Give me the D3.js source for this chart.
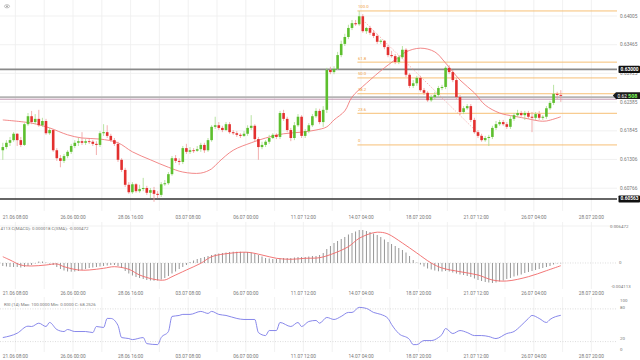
<!DOCTYPE html>
<html><head><meta charset="utf-8">
<script src="https://cdn.jsdelivr.net/npm/d3@7/dist/d3.min.js"></script>
<style>
html,body{margin:0;padding:0;background:#fff;}
svg{display:block;}
text{font-family:Roboto,"Liberation Sans",sans-serif;}
</style></head><body>
<svg id="chart" width="640" height="360"></svg>
<script>
// ---------------- DATA ----------------
const dateLabels = ["21.06 08:00","26.06 00:00","28.06 16:00","03.07 08:00","06.07 00:00","11.07 12:00","14.07 04:00","18.07 20:00","21.07 12:00","26.07 04:00","28.07 20:00"];
const dateTickIdx = [3.5,19.5,35.5,51.5,67.5,83.5,99.5,115.5,131.5,147.5,163.5];
const priceTicks = [0.64005,0.63465,0.62925,0.62385,0.61845,0.61306,0.60766];

const openP = [
.6148,.6154,.6162,.6167,.6179,.6167,.6158,.6197,.6212,.6201,
.6207,.6195,.6203,.6180,.6186,.6148,.6133,.6128,.6137,.6145,
.6156,.6162,.6165,.6162,.6165,.6164,.6160,.6158,.6180,.6182,
.6175,.6167,.6160,.6130,.6111,.6083,.6069,.6084,.6071,.6075,
.6077,.6068,.6073,.6066,.6064,.6084,.6086,.6103,.6133,.6128,
.6126,.6152,.6145,.6148,.6147,.6150,.6158,.6148,.6167,.6192,
.6195,.6190,.6186,.6197,.6182,.6180,.6177,.6175,.6179,.6190,
.6194,.6169,.6154,.6158,.6164,.6171,.6177,.6173,.6218,.6207,
.6186,.6171,.6195,.6211,.6175,.6184,.6195,.6212,.6222,.6201,
.6224,.6299,.6295,.6301,.6327,.6348,.6361,.6378,.6387,.6385,
.6400,.6372,.6378,.6369,.6363,.6352,.6354,.6342,.6327,.6325,
.6314,.6323,.6337,.6290,.6269,.6274,.6284,.6261,.6256,.6242,
.6248,.6252,.6265,.6267,.6303,.6295,.6280,.6248,.6220,.6227,
.6231,.6205,.6182,.6175,.6167,.6171,.6173,.6190,.6197,.6201,
.6197,.6192,.6207,.6214,.6218,.6214,.6218,.6211,.6209,.6216,
.6209,.6211,.6227,.6237,.6254,.6252];
const highP = [
.6162,.6167,.6173,.6182,.6180,.6173,.6199,.6218,.6222,.6216,
.6224,.6209,.6207,.6190,.6188,.6152,.6139,.6141,.6148,.6160,
.6167,.6171,.6182,.6169,.6169,.6167,.6165,.6184,.6197,.6195,
.6179,.6171,.6164,.6133,.6115,.6088,.6088,.6086,.6083,.6096,
.6081,.6077,.6079,.6071,.6088,.6092,.6107,.6137,.6139,.6133,
.6156,.6160,.6154,.6152,.6156,.6162,.6162,.6171,.6195,.6211,
.6201,.6194,.6201,.6201,.6186,.6184,.6180,.6184,.6195,.6214,
.6197,.6173,.6164,.6167,.6177,.6180,.6180,.6222,.6224,.6211,
.6190,.6201,.6216,.6214,.6188,.6199,.6216,.6227,.6226,.6231,
.6303,.6305,.6306,.6333,.6354,.6367,.6384,.6393,.6393,.6410,
.6404,.6380,.6382,.6374,.6367,.6357,.6355,.6346,.6335,.6329,
.6327,.6344,.6340,.6293,.6280,.6288,.6288,.6265,.6259,.6252,
.6258,.6269,.6271,.6306,.6308,.6299,.6284,.6252,.6231,.6235,
.6235,.6209,.6186,.6179,.6175,.6177,.6194,.6203,.6205,.6205,
.6201,.6212,.6218,.6224,.6222,.6222,.6222,.6220,.6220,.6222,
.6214,.6231,.6241,.6271,.6258,.6261];
const lowP = [
.6130,.6150,.6156,.6164,.6156,.6154,.6156,.6194,.6197,.6197,
.6192,.6192,.6177,.6177,.6145,.6128,.6116,.6124,.6133,.6141,
.6152,.6156,.6158,.6158,.6160,.6156,.6139,.6154,.6175,.6171,
.6164,.6156,.6126,.6107,.6079,.6066,.6066,.6068,.6068,.6071,
.6064,.6058,.6051,.6058,.6060,.6081,.6083,.6100,.6124,.6120,
.6122,.6141,.6141,.6143,.6145,.6145,.6143,.6145,.6164,.6188,
.6186,.6182,.6184,.6179,.6177,.6173,.6171,.6173,.6175,.6186,
.6165,.6130,.6150,.6154,.6160,.6169,.6169,.6169,.6203,.6182,
.6165,.6167,.6192,.6171,.6171,.6180,.6192,.6209,.6197,.6192,
.6218,.6291,.6291,.6299,.6323,.6344,.6357,.6374,.6382,.6382,
.6369,.6367,.6365,.6359,.6348,.6348,.6338,.6323,.6322,.6310,
.6310,.6320,.6286,.6265,.6265,.6269,.6258,.6252,.6239,.6239,
.6244,.6248,.6261,.6263,.6291,.6276,.6244,.6214,.6216,.6224,
.6201,.6179,.6171,.6164,.6164,.6156,.6169,.6186,.6194,.6194,
.6188,.6188,.6203,.6211,.6211,.6205,.6207,.6182,.6205,.6205,
.6205,.6207,.6224,.6233,.6244,.6239];
const closeP = [
.6154,.6162,.6167,.6179,.6167,.6158,.6197,.6212,.6201,.6207,
.6195,.6203,.6180,.6186,.6148,.6133,.6128,.6137,.6145,.6156,
.6162,.6165,.6162,.6165,.6164,.6160,.6158,.6180,.6182,.6175,
.6167,.6160,.6130,.6111,.6083,.6069,.6084,.6071,.6075,.6077,
.6068,.6073,.6066,.6064,.6084,.6086,.6103,.6133,.6128,.6126,
.6152,.6145,.6148,.6147,.6150,.6158,.6148,.6167,.6192,.6195,
.6190,.6186,.6197,.6182,.6180,.6177,.6175,.6179,.6190,.6194,
.6169,.6154,.6158,.6164,.6171,.6177,.6173,.6218,.6207,.6186,
.6171,.6195,.6211,.6175,.6184,.6195,.6212,.6222,.6201,.6224,
.6299,.6295,.6301,.6327,.6348,.6361,.6378,.6387,.6385,.6400,
.6372,.6378,.6369,.6363,.6352,.6354,.6342,.6327,.6325,.6314,
.6323,.6337,.6290,.6269,.6274,.6284,.6261,.6256,.6242,.6248,
.6252,.6265,.6267,.6303,.6295,.6280,.6248,.6220,.6227,.6231,
.6205,.6182,.6175,.6167,.6171,.6173,.6190,.6197,.6201,.6197,
.6192,.6207,.6214,.6218,.6214,.6218,.6211,.6209,.6216,.6209,
.6211,.6227,.6237,.6254,.6252,.62508];

// moving average (main panel)
const maIdx = [0,8,13,18,22,27,32,36,41,46,50,55,58,60,64,69,73,78,83,87,90,92,95,97,101,106,110,112,116,120,123,127,131,134,138,142,146,149,151,155];
const maVal = [.6205,.6199,.6190,.6177,.6171,.6169,.6162,.6145,.6130,.6116,.6107,.6105,.6113,.6126,.6148,.6162,.6171,.6179,.6182,.6186,.6192,.6205,.6222,.6248,.6274,.6303,.6323,.6333,.6340,.6333,.6312,.6280,.6256,.6233,.6218,.6212,.6207,.6203,.6203,.6211];

// horizontal levels
const levelVals = [0.63000, 0.60563];
const bidLine = 0.6248, askLine = 0.6244;
const lastPrice = 0.62508;

// fibonacci
const fibHigh = 0.6410, fibLow = 0.6158, fibStartIdx = 98.5;
const fibLevels = [100, 61.8, 50, 38.2, 23.6, 0];
const fibLabels = ["100.0","61.8","50.0","38.2","23.6","0"];

// trend line (dotted)
const trendIdx = [100, 134];
const trendVal = [0.6393, 0.6167];

// MACD
const macdHist = [
-0.000525,-0.000612,-0.0007,-0.0007,-0.0007,-0.000787,-0.0007,-0.000525,-0.00035,-0.000088,
0.000262,0.000262,0.000088,-0.000088,-0.00035,-0.0007,-0.00105,-0.001312,-0.001487,-0.001522,
-0.001487,-0.0014,-0.001225,-0.00105,-0.000875,-0.000787,-0.0007,-0.000612,-0.000525,-0.000437,
-0.00035,-0.00035,-0.000525,-0.000875,-0.0014,-0.001837,-0.002187,-0.00245,-0.002625,-0.0028,
-0.002975,-0.003062,-0.003097,-0.003062,-0.002887,-0.002625,-0.002275,-0.001837,-0.001487,-0.00105,
-0.0007,-0.00035,0.000175,0.000437,0.0007,0.000875,0.00105,0.001225,0.0014,0.001575,
0.001662,0.00175,0.001837,0.001925,0.001977,0.001977,0.001977,0.001925,0.001925,0.001837,
0.001662,0.0014,0.001137,0.000875,0.000787,0.0007,0.0007,0.000787,0.000875,0.000875,
0.000875,0.000962,0.00105,0.00105,0.00105,0.001137,0.001225,0.001225,0.0014,0.00175,
0.00245,0.002975,0.0035,0.00385,0.0042,0.00455,0.004987,0.00525,0.005512,0.005775,
0.005775,0.0056,0.005425,0.005162,0.0049,0.00455,0.004112,0.003675,0.003325,0.002975,
0.002625,0.002275,0.001837,0.001225,0.000525,0.000088,-0.000262,-0.000612,-0.000962,-0.001137,
-0.001312,-0.001452,-0.001487,-0.0014,-0.001487,-0.001662,-0.001837,-0.002012,-0.0021,-0.002275,
-0.00245,-0.002712,-0.002975,-0.00315,-0.003325,-0.003412,-0.0035,-0.003412,-0.003237,-0.003062,
-0.0028,-0.002625,-0.002362,-0.002187,-0.002012,-0.00175,-0.001575,-0.0014,-0.001225,-0.00105,
-0.000875,-0.0007,-0.000525,-0.000262,-0.000088,0.000018];
const sigIdx = [0,2,5,8,12,15,17,21,24,28,31,35,38,42,45,47,51,55,58,63,68,72,76,80,84,88,92,96,99,103,105,107,111,115,119,122,127,132,136,140,146,151,155];
const sigVal = [0.001102,0.000525,-0.00035,-0.000525,-0.00035,-0.000175,-0.000647,-0.001225,-0.001225,-0.000927,-0.000647,-0.001102,-0.0021,-0.002852,-0.002975,-0.002397,-0.001225,-0.000052,0.001102,0.001697,0.001872,0.0014,0.000822,0.000647,0.000822,0.000927,0.001697,0.002852,0.004322,0.005302,0.005372,0.005075,0.0035,0.00175,0,-0.000875,-0.001522,-0.0021,-0.002975,-0.00315,-0.002397,-0.001347,-0.000472];
const macdMax = 0.006472, macdMin = -0.004113;

// RSI
const rsiIdx = [0,4,7,8,10,12,13,15,17,18,20,23,25,26,28,29,30,32,33,35,36,39,40,43,44,46,47,49,50,52,55,57,58,60,62,65,67,70,71,73,74,76,77,80,82,83,85,87,88,90,92,94,96,97,99,101,103,105,107,108,110,113,114,115,117,119,121,122,123,125,127,129,131,133,135,137,140,142,144,146,147,149,151,152,155];
const rsiVal = [27.4,35.4,48.3,47.7,53.8,47.7,55.1,42.2,38.5,42.2,38.5,38.5,36.6,47.7,45.9,62.5,62.5,49.6,27.4,25.6,23.7,27.4,16.3,14.5,27.4,38.5,66.2,68.0,69.9,69.9,75.4,71.7,75.4,69.9,68.0,62.5,60.6,60.6,36.6,31.1,40.3,40.3,55.1,47.7,55.1,47.7,56.9,58.8,53.8,64.3,60.6,66.2,73.5,73.5,82.8,80.9,73.5,69.9,62.5,51.4,34.8,23.7,14.5,14.5,21.9,21.9,27.4,33.0,44.0,34.8,40.3,36.6,31.1,31.1,29.3,25.6,34.8,38.5,49.6,62.5,68.0,62.5,55.1,60.6,68.25];
const rsiTicks = [100, 80, 20, 0];

const macdHeader = "4113  C(MACD): 0.000018  C(SMA): -0.000472";
const rsiHeader = "RSI (14)  Max: 100.0000  Min: 0.0000  C: 68.2526";

// ---------------- LAYOUT ----------------
const plotLeft = 0, plotRight = 617, axisX = 620;
const FS = 4.8;
const svg = d3.select('#chart');
const x = d3.scaleLinear().domain([0,155]).range([2.8,560.8]);
const yP = d3.scaleLinear().domain([0.60544,0.64306]).range([200,0]);
const yM = d3.scaleLinear().domain([macdMin,macdMax]).range([286.5,226]);
const yR = d3.scaleLinear().domain([20,80]).range([341.6,308.9]);
const panels = [{top:0,bottom:211,axisY:217},{top:222,bottom:289,axisY:293},{top:297,bottom:352,axisY:356}];

svg.append('rect').attr('width',640).attr('height',360).attr('fill','#fff');

// vertical grid + time axis per panel
const gridIdx = d3.range(3.5, 200, 8).filter(i => x(i) <= plotRight);
panels.forEach(p => {
  svg.append('g').selectAll('line').data(gridIdx).join('line')
    .attr('x1', d => x(d)).attr('x2', d => x(d))
    .attr('y1', p.top).attr('y2', p.bottom)
    .attr('stroke', '#ededed').attr('stroke-width', 0.8);
  svg.append('g').selectAll('text').data(dateLabels).join('text')
    .attr('x', (d,i) => x(dateTickIdx[i])).attr('y', p.axisY)
    .attr('text-anchor','middle').attr('dominant-baseline','central')
    .attr('font-size', FS).attr('fill','#777').text(d => d);
});

// horizontal grid main
svg.append('g').selectAll('line').data(priceTicks).join('line')
  .attr('x1', plotLeft).attr('x2', plotRight)
  .attr('y1', d => yP(d)).attr('y2', d => yP(d))
  .attr('stroke', '#ededed').attr('stroke-width', 0.8);

// fib lines
const fibG = svg.append('g');
const fibPrice = l => fibLow + (fibHigh - fibLow) * l / 100;
fibG.selectAll('line').data(fibLevels).join('line')
  .attr('x1', x(fibStartIdx)).attr('x2', plotRight)
  .attr('y1', d => yP(fibPrice(d))).attr('y2', d => yP(fibPrice(d)))
  .attr('stroke', '#f6b967').attr('stroke-width', 0.9);
fibG.selectAll('text').data(fibLevels).join('text')
  .attr('x', x(fibStartIdx) + 0.5).attr('y', d => yP(fibPrice(d)) - 2.6)
  .attr('font-size', 4.3).attr('fill','#f0a040').text((d,i) => fibLabels[i]);

// levels
svg.append('line').attr('x1',plotLeft).attr('x2',plotRight).attr('y1',yP(levelVals[0])).attr('y2',yP(levelVals[0]))
  .attr('stroke','#8a8a8a').attr('stroke-width',1.8);
svg.append('line').attr('x1',plotLeft).attr('x2',plotRight).attr('y1',yP(levelVals[1])).attr('y2',yP(levelVals[1]))
  .attr('stroke','#333').attr('stroke-width',1.6);
svg.append('line').attr('x1',plotLeft).attr('x2',plotRight).attr('y1',yP(bidLine)).attr('y2',yP(bidLine))
  .attr('stroke','#b4b4b4').attr('stroke-width',1.8);
svg.append('line').attr('x1',plotLeft).attr('x2',plotRight).attr('y1',yP(askLine)).attr('y2',yP(askLine))
  .attr('stroke','#b07a9a').attr('stroke-width',0.8);

// MA line
const maPts = maIdx.map((d,i) => [d, maVal[i]]);
svg.append('path').datum(maPts)
  .attr('d', d3.line().x(d => x(d[0])).y(d => yP(d[1])).curve(d3.curveCatmullRom.alpha(0.5)))
  .attr('fill','none').attr('stroke','#f07c7c').attr('stroke-width',0.9);

// trend line
svg.append('path').datum(trendIdx.map((d,i)=>[d,trendVal[i]]))
  .attr('d', d3.line().x(d => x(d[0])).y(d => yP(d[1])))
  .attr('fill','none').attr('stroke','#f29a9a').attr('stroke-width',0.7).attr('stroke-dasharray','1.5,1.5');

// candles
const bars = closeP.map((c,i) => ({i, o:openP[i], h:highP[i], l:lowP[i], c}));
const up = '#5dbf2e', dn = '#e3302f';
const cg = svg.append('g');
cg.selectAll('line').data(bars).join('line')
  .attr('x1', d => x(d.i)).attr('x2', d => x(d.i))
  .attr('y1', d => yP(d.h)).attr('y2', d => yP(d.l))
  .attr('stroke', d => d.c >= d.o ? '#a6dc8a' : '#f09a9a').attr('stroke-width', 0.8);
cg.selectAll('rect').data(bars).join('rect')
  .attr('x', d => x(d.i) - 1.3).attr('width', 2.6)
  .attr('y', d => yP(Math.max(d.o, d.c)))
  .attr('height', d => Math.max(0.9, Math.abs(yP(d.o) - yP(d.c))))
  .attr('fill', d => d.c >= d.o ? up : dn);

// price axis labels
svg.append('g').selectAll('text').data(priceTicks).join('text')
  .attr('x', axisX).attr('y', d => yP(d)).attr('dominant-baseline','central')
  .attr('font-size', FS).attr('fill','#777').text(d => d.toFixed(5));

// level boxes
levelVals.forEach(v => {
  const yy = yP(v);
  svg.append('rect').attr('x',618.5).attr('y',yy-3.6).attr('width',21.5).attr('height',7.2).attr('fill','#111').attr('rx',0.8);
  svg.append('text').attr('x',620.5).attr('y',yy).attr('dominant-baseline','central')
    .attr('font-size',FS).attr('font-weight','bold').attr('fill','#fff').text(v.toFixed(5));
});
// last price box
{
  const yy = yP(lastPrice);
  svg.append('path').attr('d', `M612.8,${yy} L616,${yy-3.4} L640,${yy-3.4} L640,${yy+3.4} L616,${yy+3.4} Z`).attr('fill','#1c1c1c');
  const t = svg.append('text').attr('x',617.5).attr('y',yy).attr('dominant-baseline','central').attr('font-size',FS);
  t.append('tspan').attr('fill','#fff').text(lastPrice.toFixed(5).slice(0,4) + ' ');
  t.append('tspan').attr('fill','#7dff5a').attr('font-weight','bold').attr('font-size',5.4).text(lastPrice.toFixed(5).slice(4));
}

// eye icon
svg.append('ellipse').attr('cx',7).attr('cy',6.3).attr('rx',2.6).attr('ry',1.6).attr('fill','none').attr('stroke','#9a9a9a').attr('stroke-width',0.6);
svg.append('circle').attr('cx',7).attr('cy',6.3).attr('r',0.9).attr('fill','#9a9a9a');

// ---------- MACD panel ----------
svg.append('line').attr('x1',plotLeft).attr('x2',plotRight).attr('y1',yM(macdMax)).attr('y2',yM(macdMax)).attr('stroke','#ededed').attr('stroke-width',0.8);
svg.append('line').attr('x1',plotLeft).attr('x2',plotRight).attr('y1',yM(0)).attr('y2',yM(0))
  .attr('stroke','#c8c8c8').attr('stroke-width',0.6).attr('stroke-dasharray','1,1.5');
svg.append('g').selectAll('rect').data(macdHist).join('rect')
  .attr('x', (d,i) => x(i) - 0.45).attr('width', 0.9)
  .attr('y', d => Math.min(yM(0), yM(d)))
  .attr('height', d => Math.max(0.5, Math.abs(yM(d) - yM(0))))
  .attr('fill', '#8c8c8c');
svg.append('path').datum(sigIdx.map((d,i)=>[d,sigVal[i]]))
  .attr('d', d3.line().x(d => x(d[0])).y(d => yM(d[1])).curve(d3.curveCatmullRom.alpha(0.5)))
  .attr('fill','none').attr('stroke','#f06868').attr('stroke-width',0.9);
svg.append('text').attr('x',0.5).attr('y',228.5).attr('dominant-baseline','central')
  .attr('font-size',4.4).attr('fill','#777').text(macdHeader);
svg.append('text').attr('x',610).attr('y',yM(macdMax)).attr('dominant-baseline','central').attr('font-size',4.4).attr('fill','#777').text(macdMax.toFixed(6));
svg.append('text').attr('x',619).attr('y',yM(0)).attr('dominant-baseline','central').attr('font-size',4.4).attr('fill','#777').text('0');
svg.append('text').attr('x',611).attr('y',yM(macdMin)).attr('dominant-baseline','central').attr('font-size',4.4).attr('fill','#777').text(macdMin.toFixed(6));

// ---------- RSI panel ----------
[80,20].forEach(v => {
  svg.append('line').attr('x1',plotLeft).attr('x2',plotRight).attr('y1',yR(v)).attr('y2',yR(v))
    .attr('stroke','#c4c4c4').attr('stroke-width',0.6).attr('stroke-dasharray','1,1.5');
});
svg.append('path').datum(rsiIdx.map((d,i)=>[d,rsiVal[i]]))
  .attr('d', d3.line().x(d => x(d[0])).y(d => yR(d[1])).curve(d3.curveMonotoneX))
  .attr('fill','none').attr('stroke','#7b7be8').attr('stroke-width',0.9);
svg.append('text').attr('x',4).attr('y',304.3).attr('dominant-baseline','central')
  .attr('font-size',4.4).attr('fill','#777').text(rsiHeader);
const rsiLabelY = {100: 300.7, 80: 307.3, 20: 338.6, 0: 349};
rsiTicks.forEach(v => {
  svg.append('text').attr('x',620).attr('y',rsiLabelY[v]).attr('dominant-baseline','central')
    .attr('font-size',4.4).attr('fill','#777').text(String(v));
});
</script></body></html>
